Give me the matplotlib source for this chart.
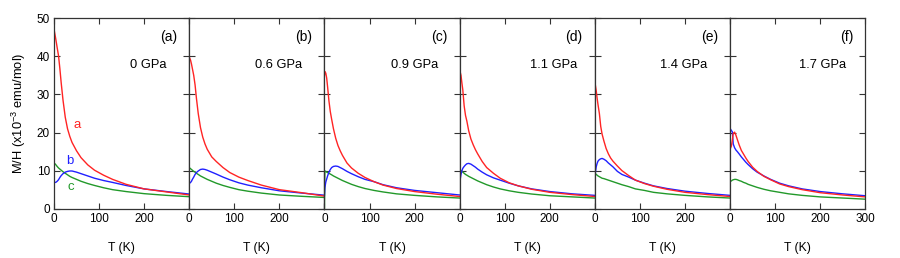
import matplotlib
matplotlib.use("Agg")
import matplotlib.pyplot as plt

plt.rcParams['font.family'] = ['Liberation Sans', 'DejaVu Sans']
plt.rcParams['mathtext.default'] = 'regular'

# temperature grid (K), shared by every curve
temps = [0, 1, 3, 5, 7, 10, 13, 16, 20, 25, 30, 35, 40, 50, 60, 75, 90, 110, 130, 160, 200, 250, 300]

# M/H (x10^-3 emu/mol)
red_a = [47.0, 46.5, 45.2, 43.8, 42.3, 40.2, 36.8, 33.0, 28.5, 24.0, 21.0, 19.0, 17.4, 15.2, 13.4, 11.5, 10.1, 8.8, 7.7, 6.4, 5.2, 4.4, 3.6]
blue_a = [6.9, 6.9, 6.9, 7.0, 7.2, 7.6, 8.2, 8.7, 9.2, 9.6, 9.8, 9.9, 9.9, 9.6, 9.2, 8.6, 8.0, 7.4, 6.9, 6.1, 5.2, 4.5, 3.85]
green_a = [12.0, 11.9, 11.7, 11.4, 11.1, 10.7, 10.4, 10.1, 9.7, 9.3, 8.9, 8.5, 8.2, 7.7, 7.2, 6.6, 6.1, 5.5, 5.0, 4.5, 3.95, 3.5, 3.15]

red_b = [39.8, 39.6, 39.0, 38.0, 36.8, 35.0, 32.5, 29.0, 25.0, 21.3, 18.8, 17.0, 15.6, 13.6, 12.4, 10.8, 9.5, 8.3, 7.4, 6.2, 5.0, 4.2, 3.3]
blue_b = [6.7, 6.7, 6.9, 7.2, 7.7, 8.3, 9.0, 9.5, 9.9, 10.3, 10.4, 10.3, 10.1, 9.6, 9.1, 8.3, 7.6, 6.8, 6.2, 5.5, 4.7, 4.1, 3.55]
green_b = [10.8, 10.7, 10.5, 10.3, 10.1, 9.8, 9.6, 9.3, 9.0, 8.6, 8.3, 8.0, 7.7, 7.2, 6.7, 6.1, 5.6, 5.0, 4.6, 4.1, 3.6, 3.25, 2.95]

red_c = [35.0, 36.0, 35.6, 34.3, 32.0, 28.3, 25.5, 23.5, 21.0, 18.5, 16.6, 15.2, 14.0, 12.0, 10.7, 9.3, 8.2, 7.1, 6.2, 5.3, 4.5, 3.8, 3.2]
blue_c = [3.5, 5.5, 7.0, 7.8, 8.6, 9.6, 10.3, 10.8, 11.1, 11.2, 11.1, 10.8, 10.5, 9.8, 9.2, 8.4, 7.7, 7.1, 6.3, 5.5, 4.8, 4.2, 3.6]
green_c = [0.0, 9.9, 9.8, 9.6, 9.5, 9.3, 9.1, 8.9, 8.6, 8.3, 8.0, 7.7, 7.4, 6.9, 6.4, 5.8, 5.3, 4.8, 4.4, 3.9, 3.5, 3.1, 2.8]

red_d = [34.7, 36.0, 35.0, 33.0, 31.2, 27.0, 24.5, 23.0, 20.5, 18.3, 16.8, 15.5, 14.4, 12.4, 10.8, 9.3, 8.0, 6.8, 6.0, 5.1, 4.3, 3.7, 3.2]
blue_d = [6.5, 7.5, 9.0, 10.0, 10.6, 11.1, 11.5, 11.8, 11.9, 11.7, 11.3, 10.9, 10.4, 9.6, 8.9, 8.1, 7.5, 6.7, 6.0, 5.2, 4.5, 3.9, 3.5]
green_d = [0.0, 9.7, 10.0, 9.9, 9.6, 9.3, 9.0, 8.8, 8.5, 8.2, 7.9, 7.6, 7.3, 6.8, 6.3, 5.7, 5.2, 4.7, 4.3, 3.85, 3.4, 3.1, 2.8]

red_e = [32.0, 32.5, 31.0, 29.0, 27.3, 25.0, 21.6, 19.6, 17.8, 15.8, 14.4, 13.3, 12.5, 11.2, 10.0, 8.7, 7.5, 6.6, 5.9, 5.1, 4.3, 3.7, 3.2]
blue_e = [9.0, 9.3, 11.0, 11.9, 12.5, 12.9, 13.1, 13.2, 13.0, 12.6, 12.0, 11.5, 11.0, 9.8, 9.0, 8.3, 7.5, 6.7, 6.0, 5.3, 4.6, 4.0, 3.5]
green_e = [0.0, 9.3, 9.0, 8.8, 8.6, 8.4, 8.2, 8.0, 7.9, 7.7, 7.5, 7.3, 7.1, 6.7, 6.3, 5.8, 5.2, 4.8, 4.3, 3.9, 3.5, 3.1, 2.8]

red_f = [15.8, 15.9, 16.5, 18.0, 19.8, 20.1, 19.3, 18.2, 16.8, 15.3, 14.3, 13.3, 12.4, 10.9, 9.8, 8.5, 7.6, 6.5, 5.8, 5.0, 4.2, 3.6, 3.1]
blue_f = [21.0, 20.9, 20.5, 20.2, 17.0, 16.0, 15.4, 15.0, 14.4, 13.6, 12.9, 12.2, 11.6, 10.5, 9.6, 8.6, 7.7, 6.7, 6.0, 5.2, 4.5, 3.9, 3.4]
green_f = [7.2, 7.2, 7.3, 7.5, 7.6, 7.7, 7.7, 7.6, 7.4, 7.2, 6.9, 6.7, 6.4, 6.0, 5.6, 5.1, 4.7, 4.3, 3.9, 3.5, 3.1, 2.8, 2.5]

panel_tags = ["(a)", "(b)", "(c)", "(d)", "(e)", "(f)"]
pressures = ["0 GPa", "0.6 GPa", "0.9 GPa", "1.1 GPa", "1.4 GPa", "1.7 GPa"]

reds = [red_a, red_b, red_c, red_d, red_e, red_f]
blues = [blue_a, blue_b, blue_c, blue_d, blue_e, blue_f]
greens = [green_a, green_b, green_c, green_d, green_e, green_f]

RED = "#ff2424"
BLUE = "#2020ff"
GREEN = "#22992a"

fig = plt.figure(figsize=(9, 2.58), dpi=100)

x0 = 54 / 900
w = (865.3 - 54) / 900 / 6
bottom = 49.3 / 258
height = 190.4 / 258
# right edge of the pressure text, in axes fraction
press_x = [0.835, 0.835, 0.845, 0.868, 0.83, 0.858]

for i in range(6):
    ax = fig.add_axes([x0 + i * w, bottom, w, height])
    ax.plot(temps, greens[i], color=GREEN, lw=1.0)
    ax.plot(temps, blues[i], color=BLUE, lw=1.0)
    ax.plot(temps, reds[i], color=RED, lw=1.0)

    ax.set_xlim(0, 300)
    ax.set_ylim(0, 50)
    ax.set_xticks([0, 100, 200, 300])
    if i < 5:
        ax.set_xticklabels(["0", "100", "200", ""])
    ax.set_yticks([0, 10, 20, 30, 40, 50])
    if i > 0:
        ax.set_yticklabels([])
    ax.tick_params(direction="in", top=True, right=True, length=4.5, width=0.8,
                   color="#333333", labelsize=8.5, pad=3)
    for s in ax.spines.values():
        s.set_linewidth(0.9)
        s.set_color("#333333")

    ax.set_xlabel("T (K)", fontsize=8.7, labelpad=12)
    ax.text(0.91, 0.90, panel_tags[i], transform=ax.transAxes, ha="right",
            va="center", fontsize=10)
    ax.text(press_x[i], 0.755, pressures[i], transform=ax.transAxes, ha="right",
            va="center", fontsize=9.3)

    if i == 0:
        ax.set_ylabel("M/H (x10$^{-3}$ emu/mol)", fontsize=9.3, labelpad=6)
        ax.text(52, 22, "a", color=RED, fontsize=9.5, ha="center", va="center")
        ax.text(35, 12.6, "b", color=BLUE, fontsize=9.5, ha="center", va="center")
        ax.text(38, 5.6, "c", color=GREEN, fontsize=9.5, ha="center", va="center")

fig.savefig("out.png", dpi=100)
